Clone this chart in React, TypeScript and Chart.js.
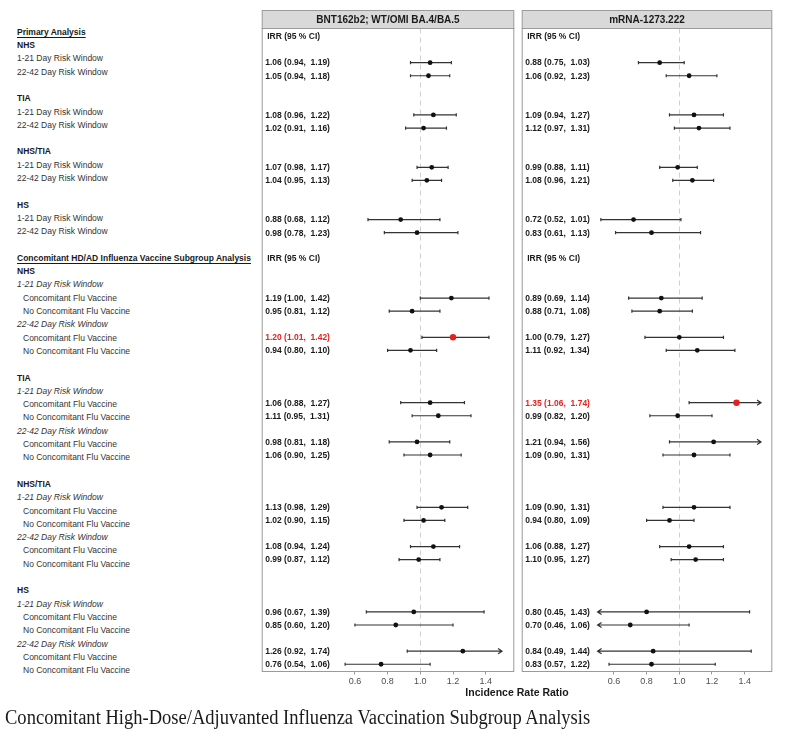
import React, { useEffect, useRef } from "react";
import { Chart, registerables } from "chart.js";

Chart.register(...registerables);

// ---------------- data ----------------
const rowLabels: string[] = [
  "Primary Analysis", "NHS", "1-21 Day Risk Window", "22-42 Day Risk Window", "",
  "TIA", "1-21 Day Risk Window", "22-42 Day Risk Window", "",
  "NHS/TIA", "1-21 Day Risk Window", "22-42 Day Risk Window", "",
  "HS", "1-21 Day Risk Window", "22-42 Day Risk Window", "",
  "Concomitant HD/AD Influenza Vaccine Subgroup Analysis",
  "NHS", "1-21 Day Risk Window", "Concomitant Flu Vaccine", "No Concomitant Flu Vaccine",
  "22-42 Day Risk Window", "Concomitant Flu Vaccine", "No Concomitant Flu Vaccine", "",
  "TIA", "1-21 Day Risk Window", "Concomitant Flu Vaccine", "No Concomitant Flu Vaccine",
  "22-42 Day Risk Window", "Concomitant Flu Vaccine", "No Concomitant Flu Vaccine", "",
  "NHS/TIA", "1-21 Day Risk Window", "Concomitant Flu Vaccine", "No Concomitant Flu Vaccine",
  "22-42 Day Risk Window", "Concomitant Flu Vaccine", "No Concomitant Flu Vaccine", "",
  "HS", "1-21 Day Risk Window", "Concomitant Flu Vaccine", "No Concomitant Flu Vaccine",
  "22-42 Day Risk Window", "Concomitant Flu Vaccine", "No Concomitant Flu Vaccine",
];

const rowKinds: string[] = [
  "section", "group", "window", "window", "blank",
  "group", "window", "window", "blank",
  "group", "window", "window", "blank",
  "group", "window", "window", "blank",
  "section",
  "group", "iwindow", "sub", "sub", "iwindow", "sub", "sub", "blank",
  "group", "iwindow", "sub", "sub", "iwindow", "sub", "sub", "blank",
  "group", "iwindow", "sub", "sub", "iwindow", "sub", "sub", "blank",
  "group", "iwindow", "sub", "sub", "iwindow", "sub", "sub",
];

const headerRows: number[] = [0, 17];
const headerText = "IRR (95 % CI)";

const estimateRows: number[] = [
  2, 3, 6, 7, 10, 11, 14, 15,
  20, 21, 23, 24, 28, 29, 31, 32, 36, 37, 39, 40, 44, 45, 47, 48,
];

const panelTitles: string[] = ["BNT162b2; WT/OMI BA.4/BA.5", "mRNA-1273.222"];

const bntIRR: number[] = [1.06, 1.05, 1.08, 1.02, 1.07, 1.04, 0.88, 0.98, 1.19, 0.95, 1.20, 0.94, 1.06, 1.11, 0.98, 1.06, 1.13, 1.02, 1.08, 0.99, 0.96, 0.85, 1.26, 0.76];
const bntLower: number[] = [0.94, 0.94, 0.96, 0.91, 0.98, 0.95, 0.68, 0.78, 1.00, 0.81, 1.01, 0.80, 0.88, 0.95, 0.81, 0.90, 0.98, 0.90, 0.94, 0.87, 0.67, 0.60, 0.92, 0.54];
const bntUpper: number[] = [1.19, 1.18, 1.22, 1.16, 1.17, 1.13, 1.12, 1.23, 1.42, 1.12, 1.42, 1.10, 1.27, 1.31, 1.18, 1.25, 1.29, 1.15, 1.24, 1.12, 1.39, 1.20, 1.74, 1.06];

const mrnaIRR: number[] = [0.88, 1.06, 1.09, 1.12, 0.99, 1.08, 0.72, 0.83, 0.89, 0.88, 1.00, 1.11, 1.35, 0.99, 1.21, 1.09, 1.09, 0.94, 1.06, 1.10, 0.80, 0.70, 0.84, 0.83];
const mrnaLower: number[] = [0.75, 0.92, 0.94, 0.97, 0.88, 0.96, 0.52, 0.61, 0.69, 0.71, 0.79, 0.92, 1.06, 0.82, 0.94, 0.90, 0.90, 0.80, 0.88, 0.95, 0.45, 0.46, 0.49, 0.57];
const mrnaUpper: number[] = [1.03, 1.23, 1.27, 1.31, 1.11, 1.21, 1.01, 1.13, 1.14, 1.08, 1.27, 1.34, 1.74, 1.20, 1.56, 1.31, 1.31, 1.09, 1.27, 1.27, 1.43, 1.06, 1.44, 1.22];

const xTicks: number[] = [0.6, 0.8, 1.0, 1.2, 1.4];
const clipLow = 0.5;
const clipHigh = 1.5;
const refValue = 1.0;
const xAxisTitle = "Incidence Rate Ratio";
const caption = "Concomitant High-Dose/Adjuvanted Influenza Vaccination Subgroup Analysis";

// ---------------- layout ----------------
const SANS = '"Liberation Sans", Arial, Helvetica, sans-serif';
const SERIF = '"Liberation Serif", "Times New Roman", serif';
const PX_PER_UNIT = 167;
const CANVAS_H = 690;
const STRIP_TOP = 10.5;
const AREA_TOP = 28.5;
const AREA_BOTTOM = 671.5;
const ROW0_Y = 36.5;
const ROW_STEP = 13.078;
const LABEL0_Y = 31.7;
const LABEL_STEP = 13.3;

const panels = [
  { left: 259, width: 258, refX: 421, title: panelTitles[0], irr: bntIRR, lo: bntLower, hi: bntUpper },
  { left: 519, width: 256, refX: 680, title: panelTitles[1], irr: mrnaIRR, lo: mrnaLower, hi: mrnaUpper },
];

const fmt = (v: number) => v.toFixed(2);

function makePlugin(p: typeof panels[number]) {
  return {
    id: "forestPanel",
    beforeDraw(chart: any) {
      const { ctx, chartArea: a } = chart;
      const xs = chart.scales.x;
      const ys = chart.scales.y;
      ctx.save();
      ctx.fillStyle = "#ffffff";
      ctx.fillRect(a.left, a.top, a.right - a.left, a.bottom - a.top);
      // strip
      ctx.fillStyle = "#d9d9d9";
      ctx.fillRect(a.left, STRIP_TOP, a.right - a.left, a.top - STRIP_TOP);
      ctx.strokeStyle = "#9a9a9a";
      ctx.lineWidth = 1;
      ctx.strokeRect(a.left, STRIP_TOP, a.right - a.left, a.top - STRIP_TOP);
      ctx.fillStyle = "#1a1a1a";
      ctx.font = `bold 10px ${SANS}`;
      ctx.textAlign = "center";
      ctx.textBaseline = "middle";
      ctx.fillText(p.title, (a.left + a.right) / 2, (STRIP_TOP + a.top) / 2 + 0.5);
      // reference line
      const rx = Math.round(xs.getPixelForValue(refValue)) + 0.5;
      ctx.setLineDash([5, 4]);
      ctx.strokeStyle = "#cfcfcf";
      ctx.beginPath();
      ctx.moveTo(rx, a.top);
      ctx.lineTo(rx, a.bottom);
      ctx.stroke();
      ctx.setLineDash([]);
      // header text
      ctx.textAlign = "left";
      ctx.fillStyle = "#1a1a1a";
      ctx.font = `bold 8.5px ${SANS}`;
      headerRows.forEach((r) => {
        ctx.fillText(headerText, a.left + 5, ys.getPixelForValue(r));
      });
      // values text
      estimateRows.forEach((r, i) => {
        const sig = p.lo[i] > refValue || p.hi[i] < refValue;
        ctx.fillStyle = sig ? "#e3211f" : "#1a1a1a";
        ctx.fillText(`${fmt(p.irr[i])} (${fmt(p.lo[i])},  ${fmt(p.hi[i])})`, a.left + 3, ys.getPixelForValue(r) + 0.5);
      });
      ctx.restore();
    },
    beforeDatasetsDraw(chart: any) {
      const { ctx } = chart;
      const xs = chart.scales.x;
      const ys = chart.scales.y;
      ctx.save();
      ctx.strokeStyle = "#333333";
      ctx.lineWidth = 1.2;
      estimateRows.forEach((r, i) => {
        const y = ys.getPixelForValue(r);
        const lo = Math.max(p.lo[i], clipLow);
        const hi = Math.min(p.hi[i], clipHigh);
        const xl = xs.getPixelForValue(lo);
        const xh = xs.getPixelForValue(hi);
        ctx.beginPath();
        ctx.moveTo(xl, y);
        ctx.lineTo(xh, y);
        if (p.lo[i] < clipLow) {
          ctx.moveTo(xl + 4, y - 2.6);
          ctx.lineTo(xl, y);
          ctx.lineTo(xl + 4, y + 2.6);
        } else {
          ctx.moveTo(xl, y - 1.6);
          ctx.lineTo(xl, y + 1.6);
        }
        if (p.hi[i] > clipHigh) {
          ctx.moveTo(xh - 4, y - 2.6);
          ctx.lineTo(xh, y);
          ctx.lineTo(xh - 4, y + 2.6);
        } else {
          ctx.moveTo(xh, y - 1.6);
          ctx.lineTo(xh, y + 1.6);
        }
        ctx.stroke();
      });
      ctx.restore();
    },
    afterDraw(chart: any) {
      const { ctx, chartArea: a } = chart;
      ctx.save();
      ctx.strokeStyle = "#9a9a9a";
      ctx.lineWidth = 1;
      ctx.strokeRect(a.left, a.top, a.right - a.left, a.bottom - a.top);
      ctx.restore();
    },
  };
}

function Panel({ p }: { p: typeof panels[number] }) {
  const ref = useRef<HTMLCanvasElement | null>(null);
  useEffect(() => {
    if (!ref.current) return;
    const areaLeft = 0.5;
    const areaRight = p.width - 0.5;
    const ref0 = p.refX - p.left;
    const xMin = refValue - (ref0 - areaLeft) / PX_PER_UNIT;
    const xMax = refValue + (areaRight - ref0) / PX_PER_UNIT;
    const yMin = (AREA_TOP - ROW0_Y) / ROW_STEP;
    const yMax = (AREA_BOTTOM - ROW0_Y) / ROW_STEP;
    const sig = estimateRows.map((_, i) => p.lo[i] > refValue || p.hi[i] < refValue);
    const chart = new Chart(ref.current, {
      type: "scatter",
      data: {
        datasets: [
          {
            data: estimateRows.map((r, i) => ({ x: p.irr[i], y: r })),
            pointRadius: sig.map((s) => (s ? 3.2 : 2.4)),
            pointBackgroundColor: sig.map((s) => (s ? "#e3211f" : "#111111")),
            pointBorderColor: sig.map((s) => (s ? "#e3211f" : "#111111")),
            pointBorderWidth: 0,
            pointHoverRadius: 0,
          },
        ],
      },
      options: {
        animation: false,
        responsive: false,
        maintainAspectRatio: false,
        events: [],
        layout: { padding: { top: AREA_TOP, left: 0.5, right: 0.5, bottom: 0 } },
        plugins: { legend: { display: false }, tooltip: { enabled: false }, title: { display: false } },
        scales: {
          x: {
            type: "linear",
            min: xMin,
            max: xMax,
            afterBuildTicks: (s: any) => {
              s.ticks = xTicks.map((v) => ({ value: v }));
            },
            afterFit: (s: any) => {
              s.height = CANVAS_H - AREA_BOTTOM;
            },
            ticks: {
              callback: (v: any) => Number(v).toFixed(1),
              color: "#4d4d4d",
              font: { size: 9, family: SANS },
              padding: 2,
              maxRotation: 0,
              autoSkip: false,
            },
            grid: { display: true, drawOnChartArea: false, drawTicks: true, tickLength: 3, color: "#9a9a9a" },
            border: { display: false },
          },
          y: { type: "linear", display: false, min: yMin, max: yMax, reverse: true },
        },
      },
      plugins: [makePlugin(p)],
    } as any);
    return () => chart.destroy();
  }, [p]);
  return (
    <canvas
      ref={ref}
      width={p.width}
      height={CANVAS_H}
      style={{ position: "absolute", left: p.left, top: 0, width: p.width, height: CANVAS_H }}
    />
  );
}

export default function App() {
  const capRef = useRef<HTMLDivElement | null>(null);
  useEffect(() => {
    const el = capRef.current;
    if (el) {
      const w = el.offsetWidth;
      if (w > 0) el.style.transform = `scaleX(${585 / w})`;
    }
  }, []);

  const labelStyle = (kind: string): React.CSSProperties => {
    const base: React.CSSProperties = {
      position: "absolute",
      whiteSpace: "pre",
      fontFamily: SANS,
      fontSize: "8.5px",
      lineHeight: "12px",
      color: "#333333",
      left: 17,
    };
    if (kind === "section") return { ...base, fontWeight: "bold", color: "#1a1a1a", textDecoration: "underline", textUnderlineOffset: "1.5px" };
    if (kind === "group") return { ...base, fontWeight: "bold", color: "#1a1a1a" };
    if (kind === "iwindow") return { ...base, fontStyle: "italic" };
    if (kind === "sub") return { ...base, left: 23 };
    return base;
  };

  return (
    <div style={{ position: "absolute", left: 0, top: 0, width: 785, height: 739, background: "#ffffff", overflow: "hidden" }}>
      {rowLabels.map((t, r) =>
        rowKinds[r] === "blank" ? null : (
          <div key={r} style={{ ...labelStyle(rowKinds[r]), top: LABEL0_Y + r * LABEL_STEP - 6 }}>
            {t}
          </div>
        )
      )}
      {panels.map((p, i) => (
        <Panel key={i} p={p} />
      ))}
      <div
        style={{
          position: "absolute",
          left: 417,
          width: 200,
          top: 686,
          textAlign: "center",
          fontFamily: SANS,
          fontWeight: "bold",
          fontSize: "10.5px",
          lineHeight: "13px",
          color: "#1a1a1a",
        }}
      >
        {xAxisTitle}
      </div>
      <div
        ref={capRef}
        style={{
          position: "absolute",
          left: 5,
          top: 705,
          display: "inline-block",
          whiteSpace: "nowrap",
          fontFamily: SERIF,
          fontSize: "20px",
          lineHeight: "24px",
          color: "#1a1a1a",
          transformOrigin: "left center",
        }}
      >
        {caption}
      </div>
    </div>
  );
}
